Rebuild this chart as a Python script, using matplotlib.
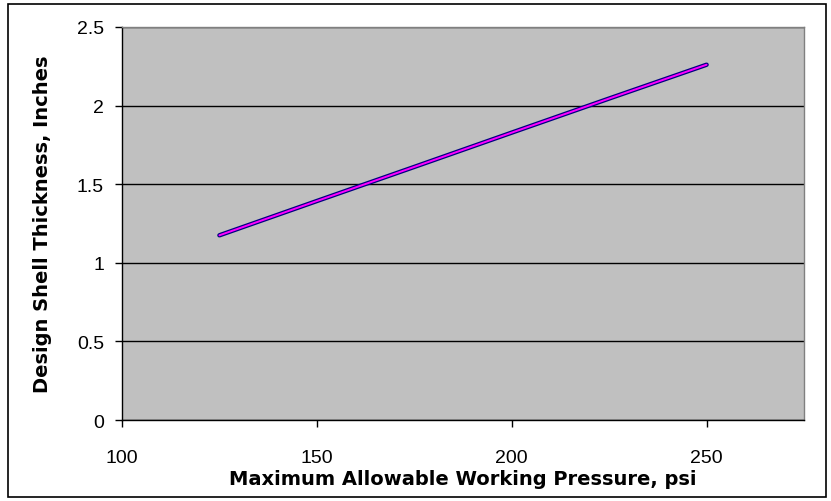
import matplotlib
matplotlib.use("Agg")
import matplotlib.pyplot as plt
from matplotlib.patches import Rectangle

pressure = [125, 150, 175, 200, 225, 250]
thickness_a = [1.175, 1.393, 1.61, 1.828, 2.045, 2.26]
thickness_b = [1.175, 1.393, 1.61, 1.828, 2.045, 2.26]
xticks = [100, 150, 200, 250]
yticks = [0, 0.5, 1, 1.5, 2, 2.5]
ytick_labels = ["0", "0.5", "1", "1.5", "2", "2.5"]

plt.rcParams['font.family'] = ['Liberation Sans', 'DejaVu Sans']

fig = plt.figure(figsize=(8.31, 5.02), dpi=100)
ax = fig.add_axes([122/831, 1-421/502, (804-122)/831, (421-28)/502])
ax.set_facecolor('#C0C0C0')
ax.set_xlim(100, 275)
ax.set_ylim(0, 2.5)
ax.set_xticks(xticks)
ax.set_yticks(yticks)
ax.set_yticklabels(ytick_labels)
ax.yaxis.grid(True, color='black', linewidth=1)
ax.set_axisbelow(True)
ax.plot(pressure, thickness_a, color='#000080', linewidth=3.2, solid_capstyle='round', zorder=3)
ax.plot(pressure, thickness_b, color='#FF00FF', linewidth=1.4, solid_capstyle='round', zorder=4)
ax.tick_params(axis='both', direction='out', length=5, width=1, labelsize=14, colors='black')
ax.tick_params(axis='x', pad=16)
ax.tick_params(axis='y', pad=8)
for s in ['left', 'bottom']:
    ax.spines[s].set_color('black')
    ax.spines[s].set_linewidth(1)
for s in ['top', 'right']:
    ax.spines[s].set_color('#808080')
    ax.spines[s].set_linewidth(1)
ax.set_xlabel('Maximum Allowable Working Pressure, psi', fontsize=14, fontweight='bold',
              family=['DejaVu Sans'], labelpad=2)
ax.set_ylabel('Design Shell Thickness, Inches', fontsize=14, fontweight='bold',
              family=['DejaVu Sans'], labelpad=18)

fig.patches.append(Rectangle((8/831, 4/502), (826-8)/831, (497-4)/502, transform=fig.transFigure,
                             fill=False, edgecolor='black', linewidth=1.2))
fig.savefig('out.png', dpi=100)
